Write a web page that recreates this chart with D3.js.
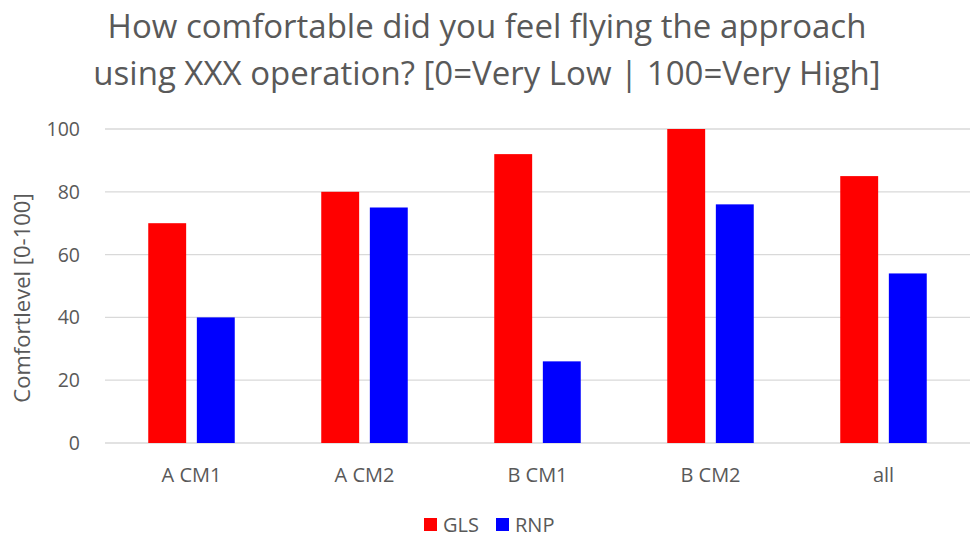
<!DOCTYPE html>
<html>
<head>
<meta charset="utf-8">
<script src="https://cdn.jsdelivr.net/npm/d3@7"></script>
<style>
body { margin: 0; background: #fff; }
text { font-family: "Open Sans", "Liberation Sans", sans-serif; fill: #595959; }
</style>
</head>
<body>
<div id="chart"></div>
<script>
// data
const categories = ["A CM1", "A CM2", "B CM1", "B CM2", "all"]
const seriesNames = ["GLS", "RNP"]
const glsValues = [70, 80, 92, 100, 85]
const rnpValues = [40, 75, 26, 76, 54]
const yTicks = [0, 20, 40, 60, 80, 100]
const colors = ["#ff0000", "#0000ff"]

const width = 973
const height = 537
const margin = { top: 129, bottom: 94, left: 105, right: 3 }

const svg = d3.select("#chart")
  .append("svg")
  .attr("width", width)
  .attr("height", height)

// title
const title = svg.append("text")
  .attr("text-anchor", "middle")
  .attr("font-size", 33)
title.append("tspan").attr("x", 487).attr("y", 38)
  .text("How comfortable did you feel flying the approach")
title.append("tspan").attr("x", 487).attr("y", 85)
  .text("using XXX operation? [0=Very Low | 100=Very High]")

const x = d3.scaleBand()
  .domain(categories)
  .range([margin.left, width - margin.right])
  .paddingInner(0.5)
  .paddingOuter(0.25)

const x1 = d3.scaleBand()
  .domain(seriesNames)
  .range([0, x.bandwidth()])
  .paddingInner(0.22)

const y = d3.scaleLinear()
  .domain([0, 100])
  .range([height - margin.bottom, margin.top])

// grid
svg.append("g")
  .selectAll("line")
  .data(yTicks)
  .join("line")
  .attr("x1", margin.left)
  .attr("x2", width - margin.right)
  .attr("y1", d => y(d))
  .attr("y2", d => y(d))
  .attr("stroke", "#d9d9d9")
  .attr("stroke-width", 1.3)

// y tick labels
svg.append("g")
  .selectAll("text")
  .data(yTicks)
  .join("text")
  .attr("x", 80)
  .attr("y", d => y(d))
  .attr("dy", "0.36em")
  .attr("text-anchor", "end")
  .attr("font-size", 19.5)
  .text(d => d)

// y label
svg.append("text")
  .attr("transform", `translate(30, ${y(50) + 12}) rotate(-90)`)
  .attr("text-anchor", "middle")
  .attr("font-size", 22)
  .text("Comfortlevel [0-100]")

// bars
const rows = categories.map((c, i) => ({ cat: c, vals: [glsValues[i], rnpValues[i]] }))
const groups = svg.append("g")
  .selectAll("g")
  .data(rows)
  .join("g")
  .attr("transform", d => `translate(${x(d.cat)},0)`)

groups.selectAll("rect")
  .data(d => d.vals.map((v, j) => ({ name: seriesNames[j], v: v, c: colors[j] })))
  .join("rect")
  .attr("x", d => x1(d.name))
  .attr("width", x1.bandwidth())
  .attr("y", d => y(d.v))
  .attr("height", d => y(0) - y(d.v))
  .attr("fill", d => d.c)

// x labels
svg.append("g")
  .selectAll("text")
  .data(categories)
  .join("text")
  .attr("x", d => x(d) + x.bandwidth() / 2)
  .attr("y", 482)
  .attr("text-anchor", "middle")
  .attr("font-size", 20)
  .text(d => d)

// legend
const legend = svg.append("g")
const legendX = [424, 496]
seriesNames.forEach((n, i) => {
  legend.append("rect")
    .attr("x", legendX[i])
    .attr("y", 518)
    .attr("width", 13)
    .attr("height", 13)
    .attr("fill", colors[i])
  legend.append("text")
    .attr("x", legendX[i] + 19)
    .attr("y", 532)
    .attr("font-size", 20)
    .text(n)
})
</script>
</body>
</html>
